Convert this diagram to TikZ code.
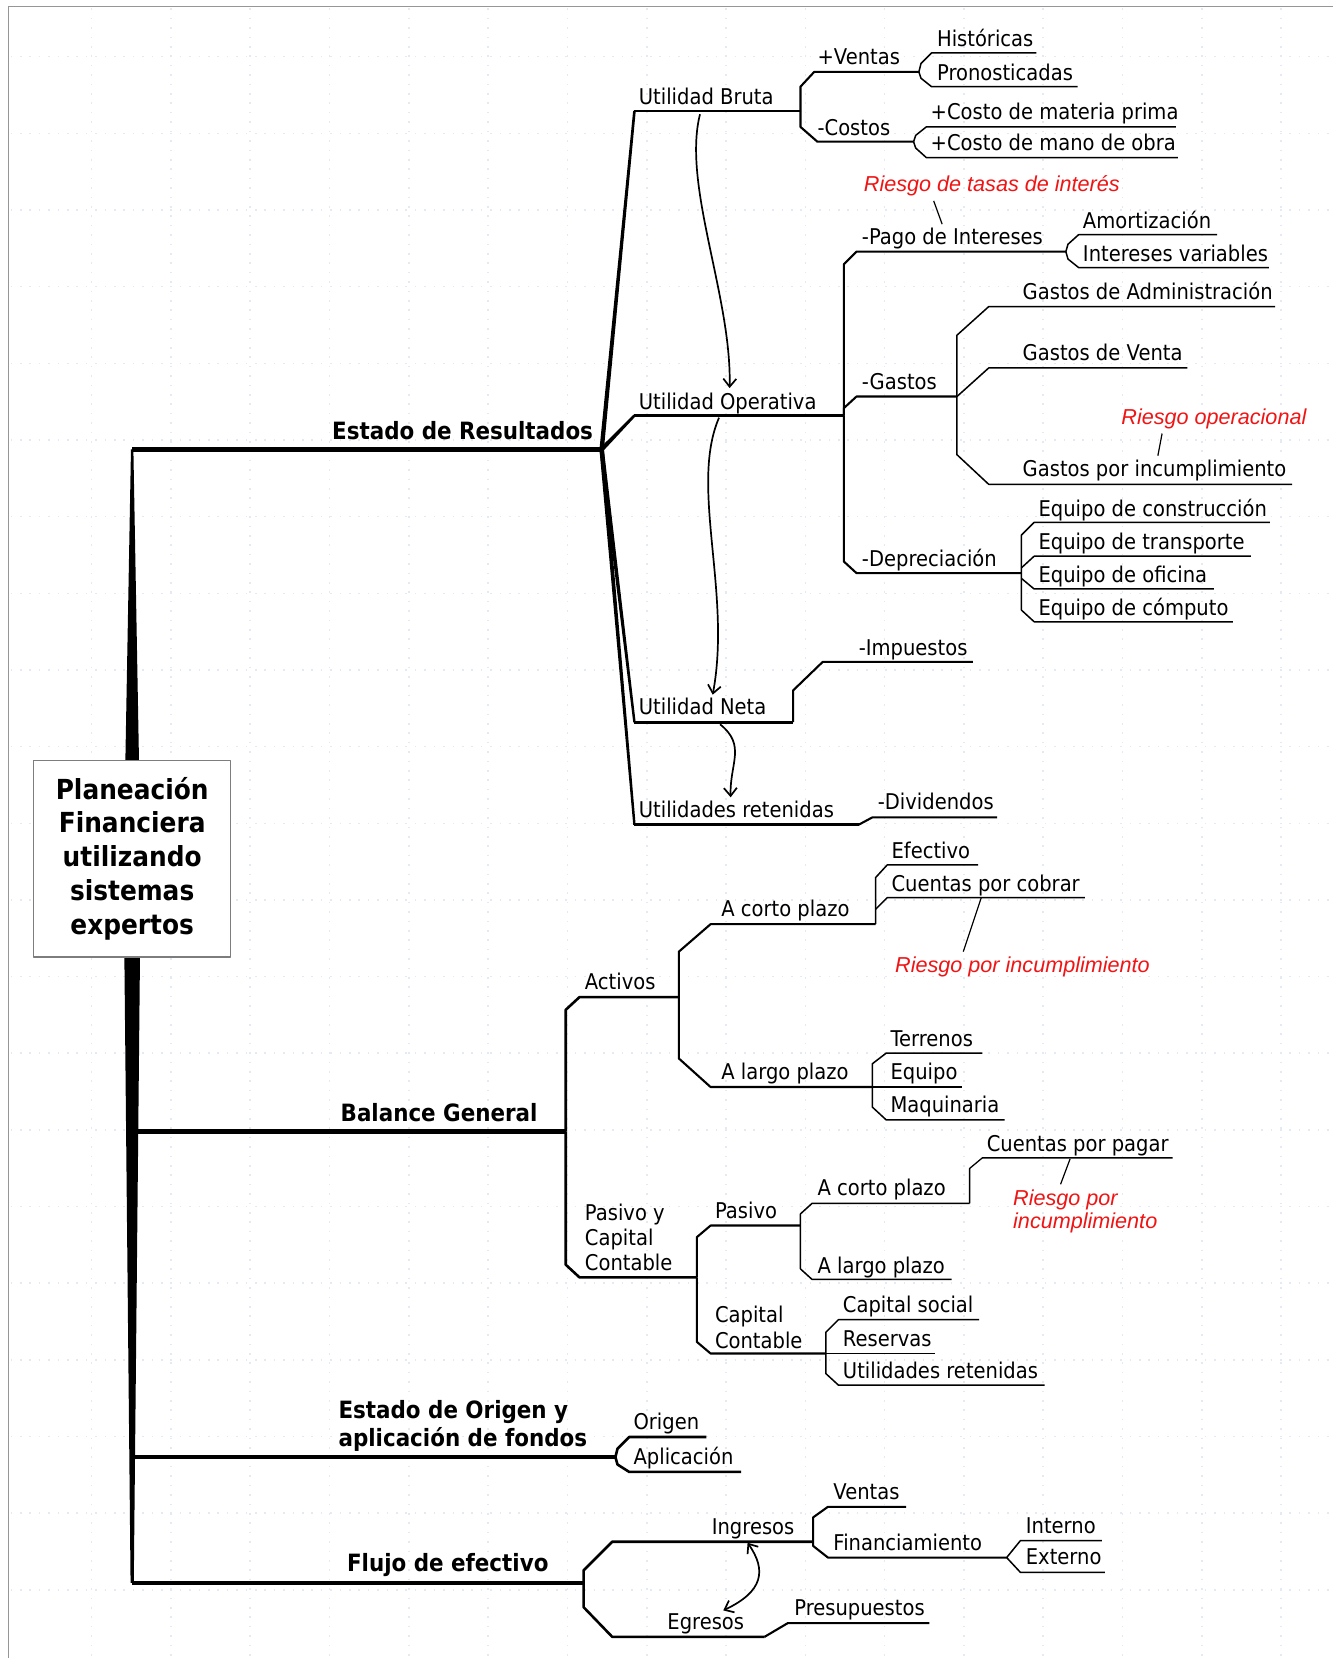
\documentclass[tikz,border=0pt]{standalone}
\usepackage{fontspec}
\setmainfont{DejaVu Sans}[FakeStretch=0.9]
\newfontfamily\mmrfont{Liberation Sans}
\usetikzlibrary{calc,arrows.meta}
\definecolor{redtxt}{RGB}{240,20,20}
\definecolor{gridc}{RGB}{228,234,243}
\definecolor{boxc}{RGB}{125,125,125}
\definecolor{bordc}{RGB}{150,150,150}
\newcommand\mmlbl{\fontsize{21.7}{25.4}\selectfont}
\newcommand\mmbig{\fontsize{23.8}{28.5}\selectfont\bfseries}
\newcommand\mmbox{\fontsize{27.6}{33.8}\selectfont\bfseries}
\newcommand\mmrisk{\mmrfont\itshape\fontsize{21.6}{23.3}\selectfont}
\newcommand{\mmtaper}[4]{\fill ($(#1)!#3!90:(#2)$) -- ($(#2)!#4!-90:(#1)$) -- ($(#2)!#4!90:(#1)$) -- ($(#1)!#3!-90:(#2)$) -- cycle;}
\begin{document}
\begin{tikzpicture}[x=1.0571pt,y=-1.0571pt,line join=round,
  lbl/.style={font=\mmlbl,inner sep=0pt,anchor=base west},
  big/.style={font=\mmbig,inner sep=0pt},
  risk/.style={font=\mmrisk,text=redtxt,inner sep=0pt},
  l1/.style={line width=4.5pt},
  l2/.style={line width=2.6pt},
  l3/.style={line width=2.1pt},
  l4/.style={line width=1.5pt},
  l5/.style={line width=1.3pt},
  pin/.style={line width=1.2pt},
  griddot/.style={gridc,line width=1.6pt,dash pattern=on 1.6pt off 7.8pt},
  arr/.style={line width=1.7pt,-{Straight Barb[length=8pt,width=13pt]}},
  darr/.style={line width=1.7pt,{Straight Barb[length=8pt,width=13pt]}-{Straight Barb[length=8pt,width=13pt]}}]
\fill[white] (0,0) rectangle (1261,1568);
\useasboundingbox (0,0) rectangle (1261,1568);
% faint dotted grid
\foreach \k in {0,...,21} \draw[griddot] (10,{53.6+72.5*\k}) -- (1261,{53.6+72.5*\k});
\foreach \k in {0,...,15} \draw[griddot] ({86.6+75*\k},8) -- ({86.6+75*\k},1568);
% border
\draw[bordc,line width=1.2pt] (8,1568) -- (8,6) -- (1261,6);

% ---------- trunk ----------
\coordinate (tTop) at (125,425);
\coordinate (tBoxN) at (125,719);
\coordinate (tBoxS) at (125,905);
\coordinate (tBot) at (125,1497);
\coordinate (jBG) at (125,1070);
\coordinate (jEO) at (125,1378);
\coordinate (hER) at (569,425);
\coordinate (hBG) at (535,1070);
\coordinate (hEO) at (582,1378);
\coordinate (hFE) at (552,1497);
\mmtaper{tTop}{tBoxN}{1.2pt}{6.8pt}
\mmtaper{tBoxS}{tBot}{7.8pt}{1.6pt}
\draw[l1] (tTop) -- (hER);
\draw[l1] (jBG) -- (hBG);
\draw[l1] (jEO) -- (hEO);
\draw[l1] (tBot) -- (hFE);

\node[draw=boxc,fill=white,line width=1.3pt,minimum width=196.6pt,minimum height=196.6pt,
      align=center,font=\mmbox,inner sep=0pt] (root) at (125,812)
      {Planeación\\Financiera\\utilizando\\sistemas\\expertos};

\node[big,anchor=base east] (nER) at (561,416) {Estado de Resultados};
\node[big,anchor=base west] (nBG) at (322,1061) {Balance General};
\node[big,anchor=north west,align=left] (nEO) at (320,1324) {Estado de Origen y\\aplicación de fondos};
\node[big,anchor=base west] (nFE) at (328,1486) {Flujo de efectivo};

% ---------- Estado de Resultados ----------
\coordinate (sUB) at (600,105); \coordinate (eUB) at (757,105);
\coordinate (sUO) at (600,393); \coordinate (eUO) at (798,393);
\coordinate (sUN) at (600,683); \coordinate (eUN) at (750,683);
\coordinate (sUR) at (600,780); \coordinate (eUR) at (812,780);
\mmtaper{hER}{sUB}{2.2pt}{1.3pt}
\mmtaper{hER}{sUO}{2.2pt}{1.3pt}
\mmtaper{hER}{sUN}{2.2pt}{1.2pt}
\mmtaper{hER}{sUR}{2.2pt}{1.2pt}
\draw[l2] (sUB) -- (eUB);
\draw[l2] (sUO) -- (eUO);
\draw[l2] (sUN) -- (eUN);
\draw[l2] (sUR) -- (eUR);
\node[lbl] (nUB) at (604,99) {Utilidad Bruta};
\node[lbl] (nUO) at (604,387) {Utilidad Operativa};
\node[lbl] (nUN) at (604,676) {Utilidad Neta};
\node[lbl] (nUR) at (604,773) {Utilidades retenidas};

% Utilidad Bruta
\coordinate (eVen) at (869,68); \coordinate (eCos) at (864,134);
\draw[l3] (eUB) -- (757,82) -- (770,68) -- (eVen);
\draw[l3] (eUB) -- (757,120) -- (773,134) -- (eCos);
\node[lbl] (nVen) at (773,61) {+Ventas};
\node[lbl] (nCos) at (773,128) {-Costos};
\coordinate (eHis) at (980,50); \coordinate (ePro) at (1019,82);
\draw[l4] (eVen) -- (871,60) -- (881,50) -- (eHis);
\draw[l4] (eVen) -- (871,74) -- (881,82) -- (ePro);
\node[lbl] (nHis) at (886,44) {Históricas};
\node[lbl] (nPro) at (886,76) {Pronosticadas};
\coordinate (eCmp) at (1112,120); \coordinate (eCmo) at (1114,149);
\draw[l4] (eCos) -- (866,128) -- (876,120) -- (eCmp);
\draw[l4] (eCos) -- (866,140) -- (876,149) -- (eCmo);
\node[lbl] (nCmp) at (880,113) {+Costo de materia prima};
\node[lbl] (nCmo) at (880,142) {+Costo de mano de obra};

% Utilidad Operativa
\coordinate (ePago) at (1008,238); \coordinate (eGas) at (905,375); \coordinate (eDep) at (966,542);
\draw[l3] (eUO) -- (798,250) -- (810,238) -- (ePago);
\draw[l3] (eUO) -- (798,386) -- (810,375) -- (eGas);
\draw[l3] (eUO) -- (798,531) -- (810,542) -- (eDep);
\node[lbl] (nPago) at (815,231) {-Pago de Intereses};
\node[lbl] (nGas) at (815,368) {-Gastos};
\node[lbl] (nDep) at (815,536) {-Depreciación};
\coordinate (eAmo) at (1151,222); \coordinate (eIV) at (1200,253);
\draw[l4] (ePago) -- (1010,231) -- (1020,222) -- (eAmo);
\draw[l4] (ePago) -- (1010,245) -- (1020,253) -- (eIV);
\node[lbl] (nAmo) at (1024,216) {Amortización};
\node[lbl] (nIV) at (1024,247) {Intereses variables};
\node[risk,anchor=base] (rRT) at (938,181) {Riesgo de tasas de interés};
\coordinate (pRT1) at (883,190); \coordinate (pRT2) at (891,212);
\draw[pin] (pRT1) -- (pRT2);
% gastos
\coordinate (gTop) at (905,317); \coordinate (gBot) at (905,430);
\coordinate (eAdm) at (1206,290); \coordinate (eGV) at (1123,348); \coordinate (eGI) at (1222,458);
\draw[l4] (eAdm) -- (935,290) -- (gTop) -- (gBot) -- (935,458) -- (eGI);
\draw[l4] (eGas) -- (935,348) -- (eGV);
\node[lbl] (nAdm) at (967,283) {Gastos de Administración};
\node[lbl] (nGV) at (967,341) {Gastos de Venta};
\node[lbl] (nGI) at (967,451) {Gastos por incumplimiento};
\node[risk,anchor=base] (rRO) at (1148,401) {Riesgo operacional};
\coordinate (pRO1) at (1099,410); \coordinate (pRO2) at (1095,431);
\draw[pin] (pRO1) -- (pRO2);
% depreciacion
\coordinate (dTop) at (966,506); \coordinate (dBot) at (966,577);
\draw[l4] (1201,494) -- (978,494) -- (dTop) -- (dBot) -- (978,588) -- (1166,588);
\draw[l4] (966,537) -- (978,526) -- (1183,526);
\draw[l4] (966,547) -- (978,557) -- (1148,557);
\node[lbl] (nEq1) at (982,488) {Equipo de construcción};
\node[lbl] (nEq2) at (982,520) {Equipo de transporte};
\node[lbl] (nEq3) at (982,551) {Equipo de oficina};
\node[lbl] (nEq4) at (982,582) {Equipo de cómputo};

% Utilidad Neta / retenidas
\coordinate (eImp) at (920,626); \coordinate (eDiv) at (943,773);
\draw[l3] (eUN) -- (750,653) -- (778,626) -- (eImp);
\draw[l3] (eUR) -- (825,773) -- (eDiv);
\node[lbl] (nImp) at (812,620) {-Impuestos};
\node[lbl] (nDiv) at (830,766) {-Dividendos};

% curved arrows
\coordinate (a1s) at (662,108); \coordinate (a1e) at (690,367);
\draw[arr] (a1s) .. controls (645,175) and (692,280) .. (a1e);
\coordinate (a2s) at (680,395); \coordinate (a2e) at (674,657);
\draw[arr] (a2s) .. controls (652,460) and (692,560) .. (a2e);
\coordinate (a3s) at (681,685); \coordinate (a3e) at (691,754);
\draw[arr] (a3s) .. controls (706,705) and (690,722) .. (a3e);

% ---------- Balance General ----------
\coordinate (eAct) at (642,943); \coordinate (ePCC) at (659,1208);
\draw[l2] (hBG) -- (535,955) -- (548,943) -- (eAct);
\draw[l2] (hBG) -- (535,1196) -- (548,1208) -- (ePCC);
\node[lbl] (nAct) at (553,936) {Activos};
\node[font=\mmlbl,inner sep=0pt,anchor=north west,align=left] (nPCC) at (553,1138) {Pasivo y\\Capital\\Contable};
% activos
\coordinate (eACP) at (828,874); \coordinate (eALP) at (825,1028);
\draw[l3] (eAct) -- (642,900) -- (672,874) -- (eACP);
\draw[l3] (eAct) -- (642,1001) -- (672,1028) -- (eALP);
\node[lbl] (nACP) at (682,867) {A corto plazo};
\node[lbl] (nALP) at (682,1021) {A largo plazo};
\draw[l4] (925,818) -- (839,818) -- (828,830) -- (eACP);
\draw[l4] (828,860) -- (839,849) -- (1026,849);
\node[lbl] (nEfe) at (843,812) {Efectivo};
\node[lbl] (nCxC) at (843,843) {Cuentas por cobrar};
\node[risk,anchor=base] (rRI1) at (967,920) {Riesgo por incumplimiento};
\coordinate (pRI1) at (928,849); \coordinate (pRI2) at (911,900);
\draw[pin] (pRI1) -- (pRI2);
\draw[l4] (929,996) -- (838,996) -- (825,1006) -- (825,1047) -- (838,1059) -- (950,1059);
\draw[l4] (eALP) -- (910,1028);
\node[lbl] (nTer) at (842,990) {Terrenos};
\node[lbl] (nEqu) at (842,1021) {Equipo};
\node[lbl] (nMaq) at (842,1052) {Maquinaria};
% pasivo y capital
\coordinate (ePas) at (757,1159); \coordinate (eCC) at (781,1280);
\draw[l3] (ePCC) -- (659,1170) -- (672,1159) -- (ePas);
\draw[l3] (ePCC) -- (659,1269) -- (672,1280) -- (eCC);
\node[lbl] (nPas) at (676,1152) {Pasivo};
\node[font=\mmlbl,inner sep=0pt,anchor=north west,align=left] (nCC) at (676,1235) {Capital\\Contable};
\coordinate (eACP2) at (917,1138);
\draw[l4] (eACP2) -- (768,1138) -- (757,1148) -- (757,1200) -- (768,1210) -- (900,1210);
\node[lbl] (nACP2) at (773,1131) {A corto plazo};
\node[lbl] (nALP2) at (773,1204) {A largo plazo};
\draw[l5] (eACP2) -- (917,1105) -- (929,1095) -- (1109,1095);
\node[lbl] (nCxP) at (933,1089) {Cuentas por pagar};
\node[risk,anchor=north west,align=left] (rRI2) at (958,1125) {Riesgo por\\incumplimiento};
\coordinate (pRI3) at (1012,1096); \coordinate (pRI4) at (1003,1120);
\draw[pin] (pRI3) -- (pRI4);
\draw[l4] (926,1248) -- (793,1248) -- (781,1260) -- (781,1299) -- (793,1310) -- (988,1310);
\draw[l4] (eCC) -- (884,1280);
\node[lbl] (nCS) at (797,1241) {Capital social};
\node[lbl] (nRes) at (797,1273) {Reservas};
\node[lbl] (nUR2) at (797,1304) {Utilidades retenidas};

% ---------- Estado de Origen ----------
\draw[l2] (668,1359) -- (595,1359) -- (584,1370) -- (hEO) -- (584,1385) -- (595,1392) -- (701,1392);
\node[lbl] (nOri) at (599,1352) {Origen};
\node[lbl] (nApl) at (599,1385) {Aplicación};

% ---------- Flujo de efectivo ----------
\coordinate (eIng) at (769,1458); \coordinate (eEgr) at (723,1548);
\draw[l2] (eIng) -- (579,1458) -- (552,1485) -- (552,1520) -- (579,1548) -- (eEgr);
\node[lbl] (nIng) at (673,1451) {Ingresos};
\node[lbl] (nEgr) at (631,1541) {Egresos};
\coordinate (eFin) at (952,1473);
\draw[l3] (857,1425) -- (783,1425) -- (769,1435) -- (eIng) -- (769,1462) -- (783,1473) -- (eFin);
\node[lbl] (nVta) at (788,1418) {Ventas};
\node[lbl] (nFin) at (788,1466) {Financiamiento};
\draw[l4] (1042,1457) -- (965,1457) -- (eFin) -- (965,1487) -- (1045,1487);
\node[lbl] (nInt) at (970,1450) {Interno};
\node[lbl] (nExt) at (970,1480) {Externo};
\draw[l3] (eEgr) -- (745,1535) -- (879,1535);
\node[lbl] (nPre) at (751,1528) {Presupuestos};
\coordinate (a4s) at (707,1459); \coordinate (a4e) at (684,1523);
\draw[darr] (a4s) .. controls (725,1485) and (722,1505) .. (a4e);
\end{tikzpicture}
\end{document}
